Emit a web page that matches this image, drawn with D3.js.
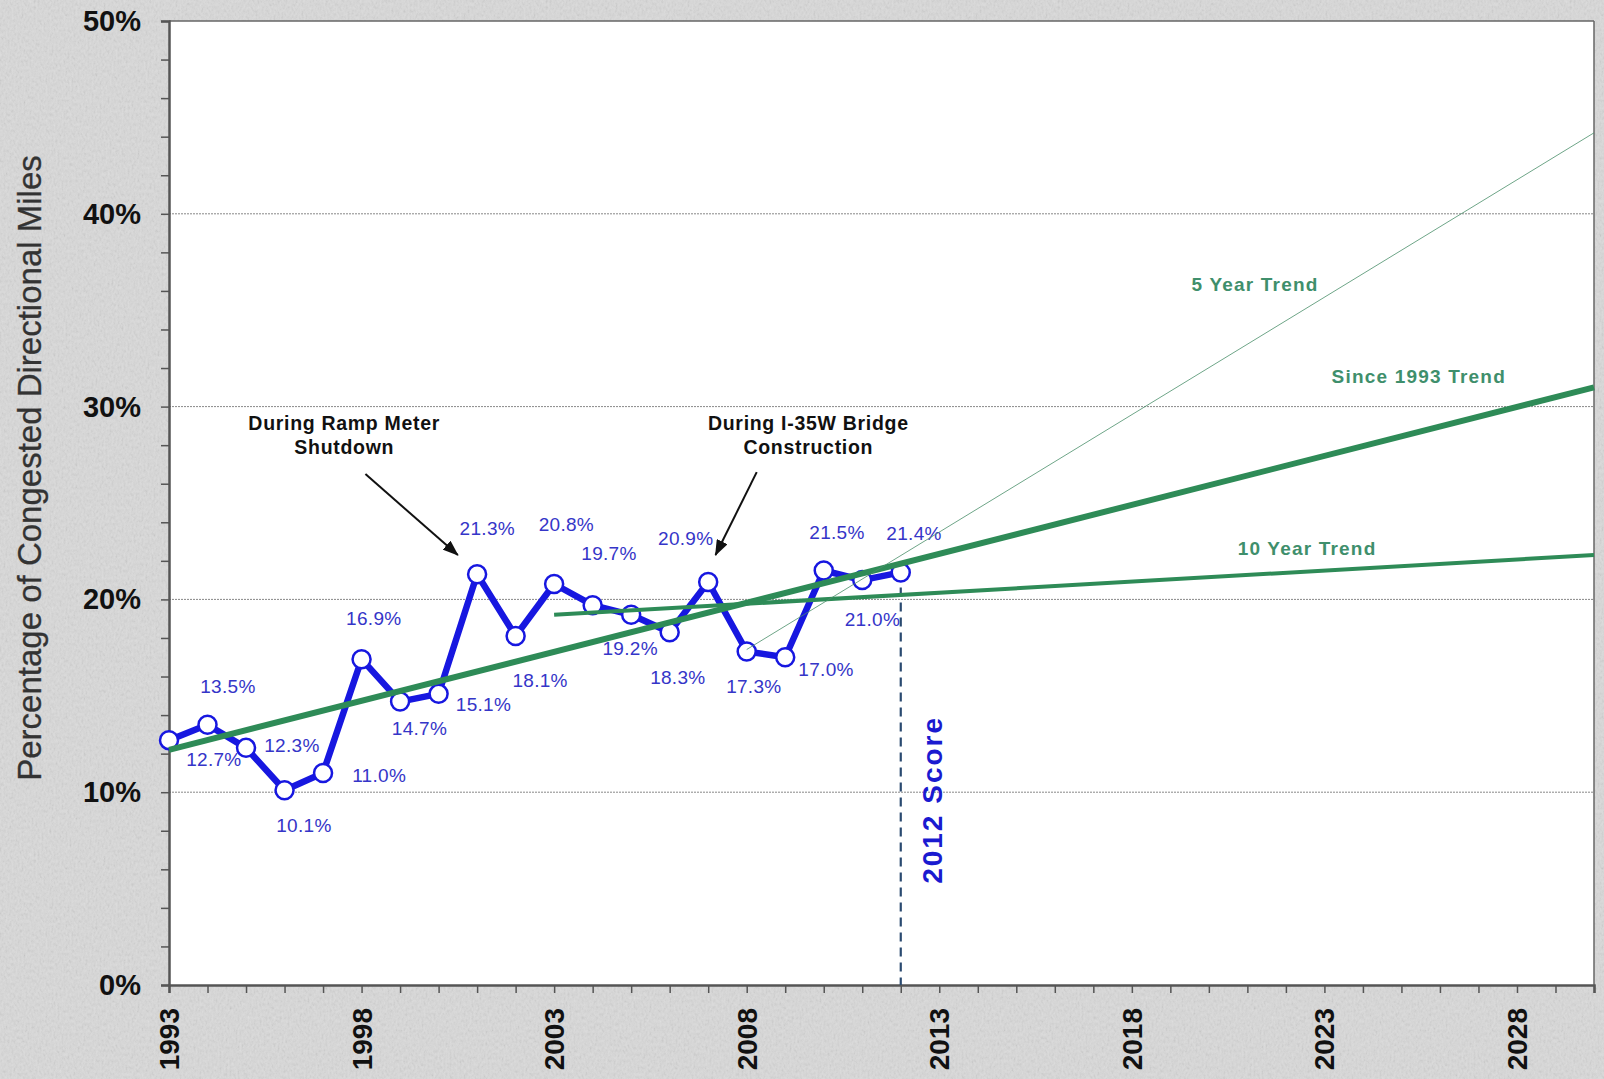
<!DOCTYPE html>
<html>
<head>
<meta charset="utf-8">
<script src="https://cdn.jsdelivr.net/npm/d3@7"></script>
<style>
  body { margin: 0; background: #dcdcdc; }
  svg { display: block; font-family: "Liberation Sans", Arial, sans-serif; }
</style>
</head>
<body>
<div id="chart"></div>
<script>
// ---- data ----
const years = [1993, 1994, 1995, 1996, 1997, 1998, 1999, 2000, 2001, 2002,
               2003, 2004, 2005, 2006, 2007, 2008, 2009, 2010, 2011, 2012];
const congested = [12.7, 13.5, 12.3, 10.1, 11.0, 16.9, 14.7, 15.1, 21.3, 18.1,
                   20.8, 19.7, 19.2, 18.3, 20.9, 17.3, 17.0, 21.5, 21.0, 21.4];
// label offsets (dx, dy) from each point to the label centre
const labelOffsets = [[44, 18], [20, -38], [45, -3], [19, 34], [55, 2], [12, -40],
                      [19, 26], [44, 10], [10, -45], [24, 43], [12, -59], [16, -51],
                      [-1, 33], [8, 44], [-22, -43], [7, 34], [40, 12], [13, -38],
                      [10, 38], [13, -39]];

// trend lines: [year, value] at start and end
const trendNames = ["Since 1993 Trend", "10 Year Trend", "5 Year Trend"];
const trendStart = [[1993, 12.2], [2003, 19.2], [2008, 17.4]];
const trendEnd = [[2030, 31.0], [2030, 22.3], [2030, 44.2]];
const trendWidths = [6, 4, 1];
const trendLabelPos = [[2025.45, 31.2], [2022.55, 22.3], [2021.2, 36.0]];

const yTicks = [0, 10, 20, 30, 40, 50];
const xLabelYears = [1993, 1998, 2003, 2008, 2013, 2018, 2023, 2028];

const notes = [
  { lines: ["During Ramp Meter", "Shutdown"], at: [1997.55, 28.8], from: [1998.1, 26.5], to: [2000.5, 22.3] },
  { lines: ["During I-35W Bridge", "Construction"], at: [2009.6, 28.8], from: [2008.26, 26.6], to: [2007.19, 22.3] }
];

// ---- layout ----
const W = 1604, H = 1079;
const margin = { top: 21, right: 10, bottom: 94, left: 169 };
const iw = W - margin.left - margin.right;
const ih = H - margin.top - margin.bottom;

const svg = d3.select('#chart').append('svg')
  .attr('width', W).attr('height', H);

// textured gray background
const defs = svg.append('defs');
const f = defs.append('filter').attr('id', 'grain')
  .attr('x', 0).attr('y', 0).attr('width', '100%').attr('height', '100%');
f.append('feTurbulence').attr('type', 'fractalNoise')
  .attr('baseFrequency', '0.5 0.3').attr('numOctaves', 3).attr('seed', 4);
f.append('feColorMatrix').attr('type', 'saturate').attr('values', 0);

defs.append('marker')
  .attr('id', 'arrow')
  .attr('markerWidth', 16).attr('markerHeight', 12)
  .attr('refX', 15).attr('refY', 6)
  .attr('orient', 'auto').attr('markerUnits', 'userSpaceOnUse')
  .append('polygon')
  .attr('points', '0 0, 16 6, 0 12')
  .attr('fill', '#111');

svg.append('rect').attr('width', W).attr('height', H).attr('fill', '#dadada');
svg.append('rect').attr('width', W).attr('height', H)
  .attr('filter', 'url(#grain)').attr('opacity', 0.3);

const g = svg.append('g').attr('transform', `translate(${margin.left},${margin.top})`);

const x = d3.scaleLinear().domain([1993, 2030]).range([0, iw]);
const y = d3.scaleLinear().domain([0, 50]).range([ih, 0]);

// plot area
g.append('rect').attr('width', iw).attr('height', ih).attr('fill', '#fff');

// gridlines
g.selectAll('.grid').data(yTicks.filter(d => d > 0 && d < 50)).enter()
  .append('line')
  .attr('x1', 0).attr('x2', iw)
  .attr('y1', d => y(d)).attr('y2', d => y(d))
  .attr('stroke', '#888').attr('stroke-width', 1)
  .attr('stroke-dasharray', '2,1');

// frame top and right
g.append('line').attr('x1', 0).attr('x2', iw).attr('y1', 0).attr('y2', 0)
  .attr('stroke', '#666').attr('stroke-width', 1.5);
g.append('line').attr('x1', iw).attr('x2', iw).attr('y1', 0).attr('y2', ih)
  .attr('stroke', '#666').attr('stroke-width', 1.5);

// y axis
const yAxis = g.append('g')
  .call(d3.axisLeft(y).tickValues(d3.range(0, 51, 2)).tickSize(8).tickFormat(''));
yAxis.select('.domain').attr('stroke', '#555').attr('stroke-width', 2.5);
yAxis.selectAll('.tick line').attr('stroke', '#555').attr('stroke-width', 1.5);

g.selectAll('.ylab').data(yTicks).enter()
  .append('text')
  .attr('x', -28).attr('y', d => y(d) + 10)
  .attr('text-anchor', 'end')
  .attr('font-size', 29).attr('font-weight', 'bold').attr('fill', '#111')
  .text(d => d + '%');

// x axis
const xAxis = g.append('g').attr('transform', `translate(0,${ih})`)
  .call(d3.axisBottom(x).tickValues(d3.range(1993, 2031)).tickSize(8).tickFormat(''));
xAxis.select('.domain').attr('stroke', '#555').attr('stroke-width', 2.5);
xAxis.selectAll('.tick line').attr('stroke', '#555').attr('stroke-width', 1.5);

g.selectAll('.xlab').data(xLabelYears).enter()
  .append('text')
  .attr('transform', d => `translate(${x(d) + 10},${ih + 23}) rotate(-90)`)
  .attr('text-anchor', 'end')
  .attr('font-size', 28).attr('font-weight', 'bold').attr('fill', '#111')
  .text(d => d);

// y axis title
svg.append('text')
  .attr('transform', `translate(41,468) rotate(-90)`)
  .attr('text-anchor', 'middle')
  .attr('font-size', 33).attr('fill', '#333')
  .attr('stroke', '#333').attr('stroke-width', 0.3)
  .text('Percentage of Congested Directional Miles');

// 2012 score marker
const lastVal = congested[congested.length - 1];
g.append('line')
  .attr('x1', x(2012)).attr('x2', x(2012))
  .attr('y1', y(lastVal)).attr('y2', ih)
  .attr('stroke', '#2a4a70').attr('stroke-width', 2.2)
  .attr('stroke-dasharray', '9,6');
g.append('text')
  .attr('transform', `translate(${x(2012) + 41},${y(9.6)}) rotate(-90)`)
  .attr('text-anchor', 'middle')
  .attr('font-size', 28).attr('font-weight', 'bold').attr('letter-spacing', 2)
  .attr('fill', '#1a1ad0')
  .text('2012 Score');

// congestion series
const pts = years.map((yr, i) => ({ year: yr, value: congested[i], off: labelOffsets[i] }));
const line = d3.line().x(d => x(d.year)).y(d => y(d.value));

g.append('path').datum(pts)
  .attr('d', line)
  .attr('fill', 'none')
  .attr('stroke', '#1717e0').attr('stroke-width', 6.5)
  .attr('stroke-linejoin', 'round');

g.selectAll('.pt').data(pts).enter()
  .append('circle')
  .attr('cx', d => x(d.year)).attr('cy', d => y(d.value))
  .attr('r', 9)
  .attr('fill', '#fff').attr('stroke', '#1717e0').attr('stroke-width', 2.5);

g.selectAll('.plab').data(pts).enter()
  .append('text')
  .attr('x', d => x(d.year) + d.off[0] * 1.02)
  .attr('y', d => y(d.value) + d.off[1] * 1.02 + 7)
  .attr('text-anchor', 'middle')
  .attr('font-size', 19).attr('letter-spacing', 0.3).attr('fill', '#3535c8')
  .text(d => d.value.toFixed(1) + '%');

// trend lines (drawn over the series)
const trendColor = ['#2e8b57', '#2e8b57', '#4a8f6a'];
trendNames.forEach((name, i) => {
  g.append('line')
    .attr('x1', x(trendStart[i][0])).attr('y1', y(trendStart[i][1]))
    .attr('x2', x(trendEnd[i][0])).attr('y2', y(trendEnd[i][1]))
    .attr('stroke', trendColor[i]).attr('stroke-width', trendWidths[i])
    .attr('opacity', i === 2 ? 0.8 : 1);
  g.append('text')
    .attr('x', x(trendLabelPos[i][0])).attr('y', y(trendLabelPos[i][1]))
    .attr('text-anchor', 'middle')
    .attr('font-size', 19).attr('letter-spacing', 1.2)
    .attr('font-weight', 'bold').attr('fill', '#3f8f6c')
    .text(name);
});

// annotations
notes.forEach(n => {
  n.lines.forEach((t, k) => {
    g.append('text')
      .attr('x', x(n.at[0])).attr('y', y(n.at[1]) + k * 24.5)
      .attr('text-anchor', 'middle')
      .attr('font-size', 19.5).attr('letter-spacing', 0.7)
      .attr('font-weight', 'bold').attr('fill', '#111')
      .text(t);
  });
  g.append('line')
    .attr('x1', x(n.from[0])).attr('y1', y(n.from[1]))
    .attr('x2', x(n.to[0])).attr('y2', y(n.to[1]))
    .attr('stroke', '#111').attr('stroke-width', 2)
    .attr('marker-end', 'url(#arrow)');
});
</script>
</body>
</html>
